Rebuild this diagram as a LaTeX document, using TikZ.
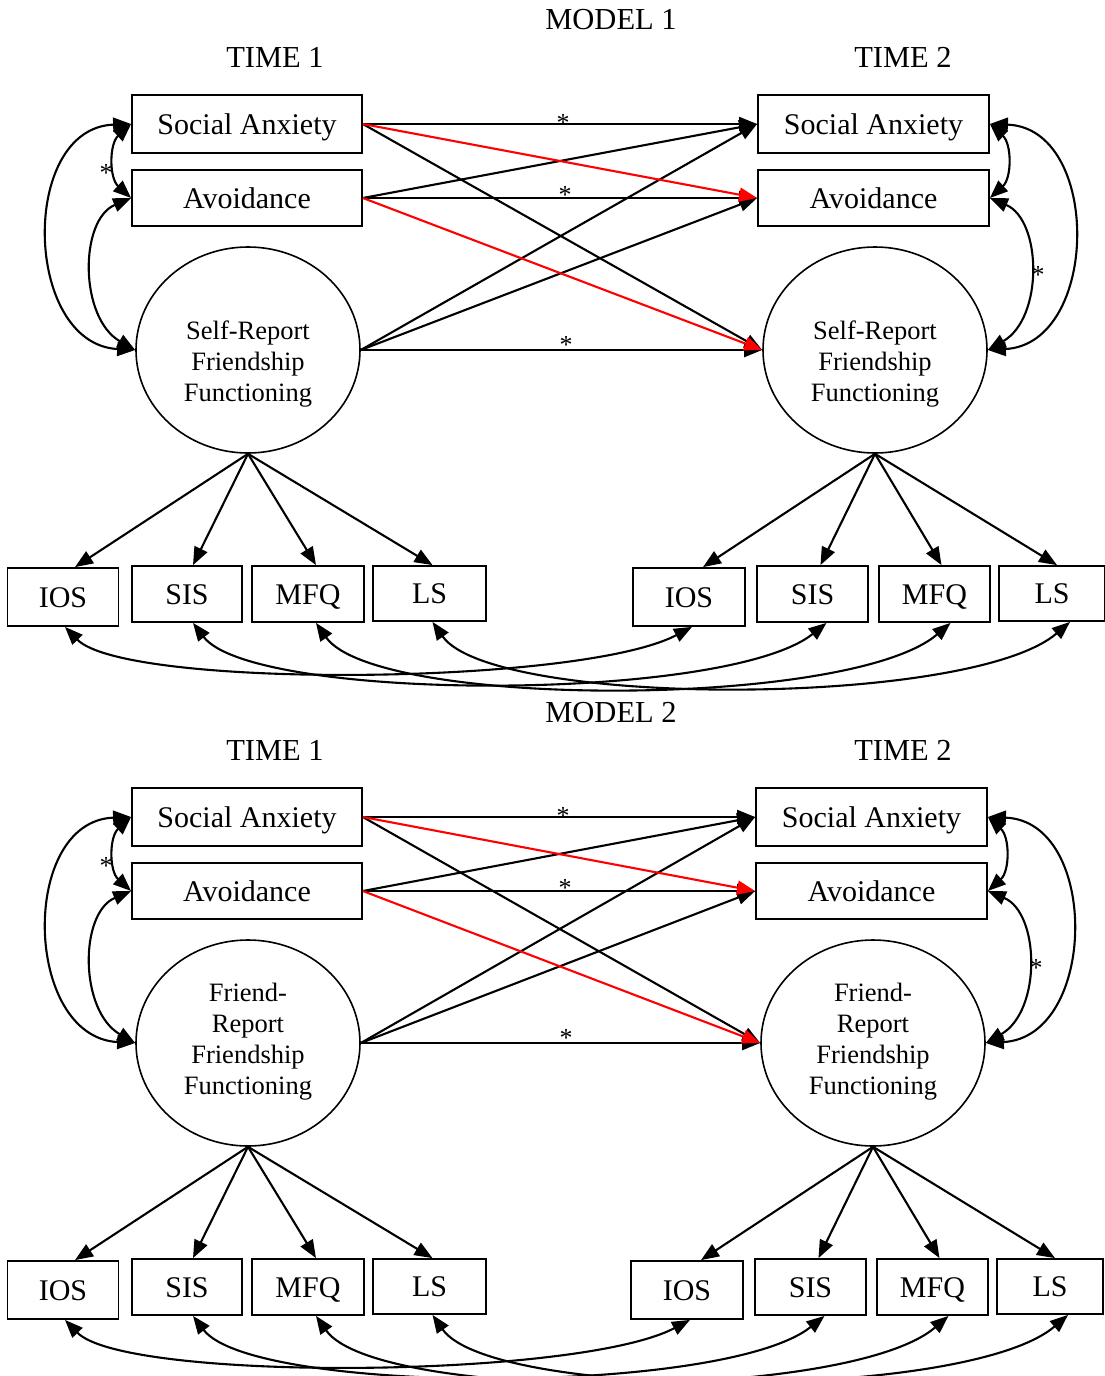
\documentclass[tikz,border=0pt]{standalone}
\usepackage{fontspec}
\setmainfont{Liberation Serif}
\usetikzlibrary{arrows.meta,shapes.geometric,calc}
\tikzset{
  box/.style={draw, line width=1.8pt, inner sep=0pt, text height=20pt, text depth=0pt, font=\fontsize{30}{36}\selectfont},
  lat/.style={draw, ellipse, line width=1.6pt, minimum width=224pt, minimum height=206pt, inner sep=0pt},
  lattext/.style={align=center, inner sep=0pt, font=\fontsize{26.5}{31}\selectfont},
  ttl/.style={inner sep=0pt, font=\fontsize{30.5}{36}\selectfont},
  star/.style={inner sep=0pt, font=\fontsize{26}{28}\selectfont},
  pth/.style={line width=2.1pt, -{Triangle[length=18pt,width=14pt]}},
  redpth/.style={pth, red},
  cov/.style={line width=2.1pt, {Triangle[length=18pt,width=14pt]}-{Triangle[length=18pt,width=14pt]}},
}
% #1 id, #2 y offset, #3 right x shift, #4 model number, #5 circle text, #6 text yshift
\newcommand\drawmodel[6]{%
\begin{scope}[shift={(0,#2)}]
  \node[ttl] (mt#1) at (611,20) {MODEL #4};
  \node[ttl] (ta#1) at (275,57) {TIME 1};
  \node[ttl] (tb#1) at (903,57) {TIME 2};
  % time 1
  \node[box, minimum width=230pt, minimum height=58pt] (saa#1) at (247,124) {Social Anxiety};
  \node[box, minimum width=230pt, minimum height=56pt] (ava#1) at (247,198) {Avoidance};
  \node[lat] (ca#1) at (248,350) {};
  \node[lattext] (cta#1) at ([yshift=#6]ca#1.center) {#5};
  % time 2
  \node[box, minimum width=231pt, minimum height=58pt] (sab#1) at (873.5+#3,124) {Social Anxiety};
  \node[box, minimum width=231pt, minimum height=56pt] (avb#1) at (873.5+#3,198) {Avoidance};
  \node[lat] (cb#1) at (875+#3,350) {};
  \node[lattext] (ctb#1) at ([yshift=#6]cb#1.center) {#5};
  % indicators
  \node[box, minimum width=111pt, minimum height=58pt] (ia#1) at (63,597) {IOS};
  \node[box, minimum width=110pt, minimum height=56pt] (sia#1) at (187,594) {SIS};
  \node[box, minimum width=112pt, minimum height=56pt] (ma#1) at (308,594) {MFQ};
  \node[box, minimum width=113pt, minimum height=55pt] (la#1) at (429.5,593.5) {LS};
  \node[box, minimum width=112pt, minimum height=58pt] (ib#1) at (689+#3,597) {IOS};
  \node[box, minimum width=111pt, minimum height=56pt] (sib#1) at (812.5+#3,594) {SIS};
  \node[box, minimum width=111pt, minimum height=56pt] (mb#1) at (934.5+#3,594) {MFQ};
  \node[box, minimum width=106pt, minimum height=55pt] (lb#1) at (1052+#3,593.5) {LS};
  % loadings
  \draw[pth] (ca#1.south) -- ([xshift=12pt]ia#1.north);
  \draw[pth] (ca#1.south) -- ([xshift=6pt]sia#1.north);
  \draw[pth] (ca#1.south) -- ([xshift=8pt]ma#1.north);
  \draw[pth] (ca#1.south) -- ([xshift=3pt]la#1.north);
  \draw[pth] (cb#1.south) -- ([xshift=14pt]ib#1.north);
  \draw[pth] (cb#1.south) -- ([xshift=8pt]sib#1.north);
  \draw[pth] (cb#1.south) -- ([xshift=7pt]mb#1.north);
  \draw[pth] (cb#1.south) -- ([xshift=5pt]lb#1.north);
  % structural paths
  \draw[pth] (saa#1.east) -- (sab#1.west);
  \draw[pth] (saa#1.east) -- (cb#1.west);
  \draw[pth] (ava#1.east) -- (sab#1.west);
  \draw[pth] (ava#1.east) -- (avb#1.west);
  \draw[pth] (ca#1.east) -- (sab#1.west);
  \draw[pth] (ca#1.east) -- (avb#1.west);
  \draw[pth] (ca#1.east) -- (cb#1.west);
  \draw[redpth] (saa#1.east) -- (avb#1.west);
  \draw[redpth] (ava#1.east) -- (cb#1.west);
  \node[star] (s1#1) at (563,122.5) {*};
  \node[star] (s2#1) at (565,195) {*};
  \node[star] (s3#1) at (566,345) {*};
  % covariances time 1
  \draw[cov] (saa#1.west) .. controls +(-22,20) and +(-22,-20) .. (ava#1.west);
  \draw[cov] (saa#1.west) .. controls +(-112,4) and +(-112,-6) .. (ca#1.west);
  \draw[cov] (ava#1.west) .. controls +(-52,22) and +(-56,-32) .. (ca#1.west);
  \node[star] (s4#1) at (106,172.5) {*};
  % covariances time 2
  \draw[cov] (sab#1.east) .. controls +(22,20) and +(22,-20) .. (avb#1.east);
  \draw[cov] (sab#1.east) .. controls +(112,4) and +(112,-6) .. (cb#1.east);
  \draw[cov] (avb#1.east) .. controls +(52,22) and +(56,-32) .. (cb#1.east);
  \node[star] (s5#1) at (1038+#3,274.5) {*};
  % indicator covariances
  \draw[cov] ([xshift=2pt]ia#1.south) .. controls +(60,62) and +(-112,59) .. ([xshift=3pt]ib#1.south);
  \draw[cov] ([xshift=6pt]sia#1.south) .. controls +(60,79) and +(-100,80) .. ([xshift=14pt]sib#1.south);
  \draw[cov] ([xshift=8pt]ma#1.south) .. controls +(60,86) and +(-100,86) .. ([xshift=16pt]mb#1.south);
  \draw[cov] ([xshift=3pt]la#1.south) .. controls +(60,86) and +(-100,86) .. ([xshift=18pt]lb#1.south);
\end{scope}}
\begin{document}
\begin{tikzpicture}[x=1pt, y=-1pt]
  \useasboundingbox (0,0) rectangle (1105,1376);
  \drawmodel{x}{0}{0}{1}{Self-Report\\Friendship\\Functioning}{-14pt}
  \drawmodel{y}{693}{-2}{2}{Friend-\\Report\\Friendship\\Functioning}{1pt}
\end{tikzpicture}
\end{document}
